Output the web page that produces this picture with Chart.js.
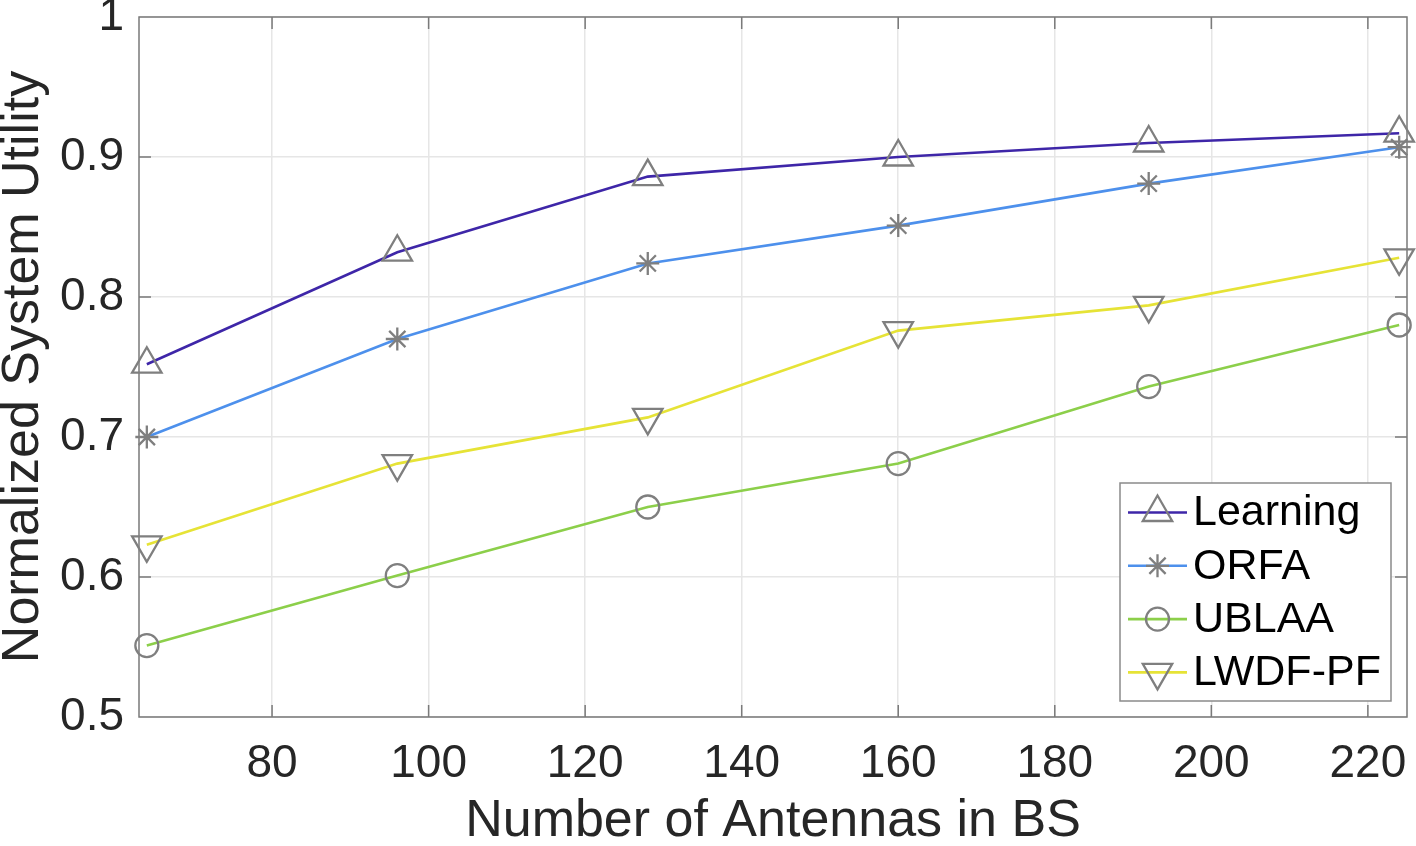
<!DOCTYPE html>
<html>
<head>
<meta charset="utf-8">
<title>Normalized System Utility</title>
<script src="https://cdn.jsdelivr.net/npm/chart.js@4/dist/chart.umd.min.js"></script>
<style>
  html, body { margin: 0; padding: 0; background: #fff; }
  #wrap { width: 1416px; height: 846px; position: relative; }
</style>
</head>
<body>
<div id="wrap"><canvas id="chart"></canvas></div>
<script>
// values
const antennas = [64, 96, 128, 160, 192, 224];
const learning = [0.752, 0.832, 0.886, 0.900, 0.910, 0.917];
const orfa     = [0.700, 0.770, 0.824, 0.851, 0.881, 0.907];
const ublaa    = [0.551, 0.601, 0.650, 0.681, 0.736, 0.780];
const lwdfPf   = [0.623, 0.681, 0.714, 0.776, 0.794, 0.828];

const xTicks = [80, 100, 120, 140, 160, 180, 200, 220];
const yTicks = [0.5, 0.6, 0.7, 0.8, 0.9, 1];
const yTickLabels = ["0.5", "0.6", "0.7", "0.8", "0.9", "1"];

const markerGray = "#7f7f7f";
const axisGray = "#7a7a7a";

function series(label, values, color, style, radius, rotation) {
  return {
    label: label,
    data: antennas.map((a, i) => ({ x: a, y: values[i] })),
    borderColor: color,
    borderWidth: 2.6,
    backgroundColor: color,
    pointStyle: style,
    pointRadius: radius,
    pointRotation: rotation || 0,
    pointBorderColor: markerGray,
    pointBackgroundColor: "rgba(0,0,0,0)",
    pointBorderWidth: 2.3,
    tension: 0,
    clip: false,
  };
}

// box around the plot with inward tick marks (matlab style)
const framePlugin = {
  id: "frame",
  beforeDatasetsDraw(chart) {
    const { ctx, chartArea: a, scales } = chart;
    ctx.save();
    ctx.strokeStyle = axisGray;
    ctx.lineWidth = 1.5;
    ctx.beginPath();
    xTicks.forEach((v) => {
      const px = scales.x.getPixelForValue(v);
      ctx.moveTo(px, a.bottom); ctx.lineTo(px, a.bottom - 12);
      ctx.moveTo(px, a.top); ctx.lineTo(px, a.top + 12);
    });
    yTicks.forEach((v) => {
      const py = scales.y.getPixelForValue(v);
      ctx.moveTo(a.left, py); ctx.lineTo(a.left + 12, py);
      ctx.moveTo(a.right, py); ctx.lineTo(a.right - 12, py);
    });
    ctx.rect(a.left, a.top, a.width, a.height);
    ctx.stroke();
    ctx.restore();
  },
};

// legend box sitting inside the axes, lower right
const legendPlugin = {
  id: "insideLegend",
  afterDraw(chart) {
    const ctx = chart.ctx;
    const box = { x: 1120, y: 483, w: 271, h: 218 };
    ctx.save();
    ctx.fillStyle = "#fff";
    ctx.fillRect(box.x, box.y, box.w, box.h);
    ctx.strokeStyle = "#8a8a8a";
    ctx.lineWidth = 1.5;
    ctx.strokeRect(box.x, box.y, box.w, box.h);
    ctx.font = "43px 'Liberation Sans', Arial, Helvetica, sans-serif";
    ctx.textBaseline = "middle";
    ctx.textAlign = "left";
    chart.data.datasets.forEach((ds, i) => {
      const rowY = 512.5 + i * 53.3;
      ctx.strokeStyle = ds.borderColor;
      ctx.lineWidth = 2.6;
      ctx.beginPath();
      ctx.moveTo(1128, rowY);
      ctx.lineTo(1187, rowY);
      ctx.stroke();
      ctx.strokeStyle = markerGray;
      ctx.fillStyle = "rgba(0,0,0,0)";
      ctx.lineWidth = 2.3;
      Chart.helpers.drawPoint(ctx, {
        pointStyle: ds.pointStyle,
        rotation: ds.pointRotation,
        radius: ds.pointRadius,
        borderWidth: 2.3,
      }, 1157.5, rowY);
      ctx.fillStyle = "#000";
      ctx.fillText(ds.label, 1193, rowY + 1);
    });
    ctx.restore();
  },
};

const tickFont = { family: "'Liberation Sans', Arial, Helvetica, sans-serif", size: 46 };
const titleFont = { family: "'Liberation Sans', Arial, Helvetica, sans-serif", size: 52, lineHeight: 0.9 };

new Chart(document.getElementById("chart"), {
  type: "line",
  data: {
    datasets: [
      series("Learning", learning, "#3e26a8", "triangle", 17, 0),
      series("ORFA", orfa, "#4d90ec", "star", 11.5, 0),
      series("UBLAA", ublaa, "#8ccf4a", "circle", 11.5, 0),
      series("LWDF-PF", lwdfPf, "#e6e336", "triangle", 17, 180),
    ],
  },
  options: {
    responsive: true,
    maintainAspectRatio: false,
    animation: false,
    devicePixelRatio: 1,
    layout: { autoPadding: false, padding: { top: 17, right: 9, bottom: 0, left: 0 } },
    scales: {
      x: {
        type: "linear",
        min: 63,
        max: 225,
        afterBuildTicks: (scale) => { scale.ticks = xTicks.map((v) => ({ value: v })); },
        afterFit: (scale) => { scale.height = 129; scale.paddingLeft = 0; scale.paddingRight = 0; },
        ticks: { font: tickFont, color: "#262626", padding: 20, maxRotation: 0 },
        grid: { color: "#e6e6e6", lineWidth: 1.5, drawTicks: false },
        border: { display: false },
        title: { display: true, text: "Number of Antennas in BS", font: titleFont, color: "#262626", padding: { top: 0, bottom: 1 } },
      },
      y: {
        type: "linear",
        min: 0.5,
        max: 1,
        afterBuildTicks: (scale) => { scale.ticks = yTicks.map((v) => ({ value: v })); },
        afterFit: (scale) => { scale.width = 139; scale.paddingTop = 0; scale.paddingBottom = 0; },
        ticks: {
          font: tickFont,
          color: "#262626",
          padding: 15,
          callback: (value) => yTickLabels[yTicks.indexOf(value)] ?? "",
        },
        grid: { color: "#e6e6e6", lineWidth: 1.5, drawTicks: false },
        border: { display: false },
        title: { display: true, text: "Normalized System Utility", font: titleFont, color: "#262626", padding: { top: 0, bottom: 0 } },
      },
    },
    plugins: {
      legend: { display: false },
      tooltip: { enabled: false },
    },
  },
  plugins: [framePlugin, legendPlugin],
});
</script>
</body>
</html>
